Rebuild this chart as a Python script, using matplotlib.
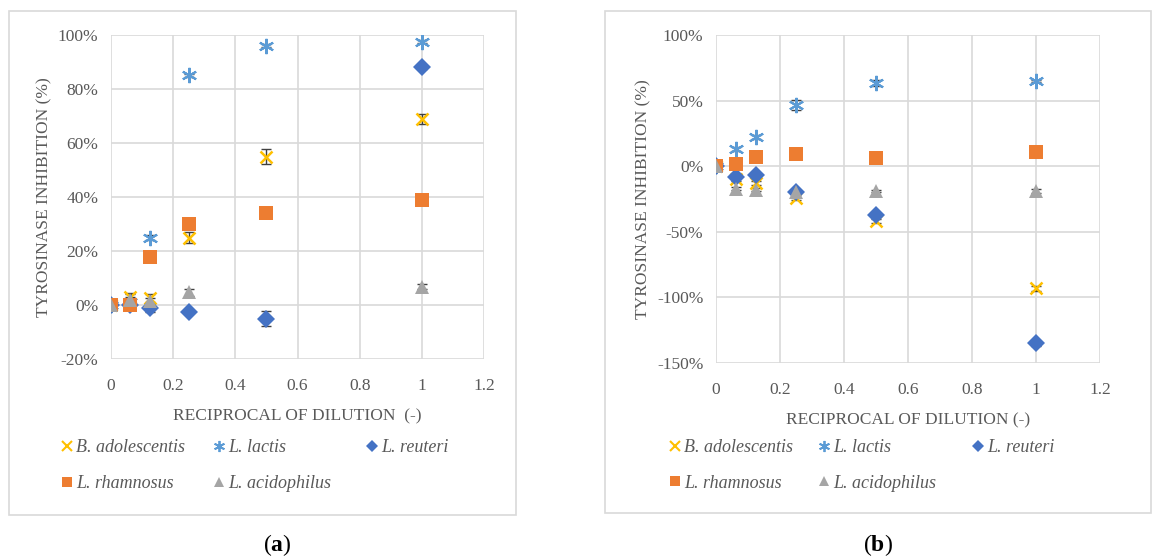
import matplotlib
matplotlib.use("Agg")
import matplotlib.pyplot as plt
from matplotlib.lines import Line2D
from matplotlib.patches import Rectangle
import numpy as np

W, H = 1153, 559

dilution = [0, 0.0625, 0.125, 0.25, 0.5, 1]
series_names = ["B. adolescentis", "L. lactis", "L. reuteri", "L. rhamnosus", "L. acidophilus"]
colors = ["#FFC000", "#5B9BD5", "#4472C4", "#ED7D31", "#A5A5A5"]
markers = ["x", (6, 2, 0), "D", "s", "^"]

# Panel (a) values (%)
a_adolescentis = [0, 3, 2.7, 25, 55, 69]
a_lactis = [0, 1, 25, 85, 96, 97.5]
a_reuteri = [0, 0, -1.2, -2.5, -5, 88]
a_rhamnosus = [0, 0, 17.7, 30, 34, 39]
a_acidophilus = [0, 2, 1.5, 4.7, None, 6.8]
a_err_adolescentis = [0, 1, 1.5, 2, 2.6, 1.8]
a_err_lactis = [0, 2, 1, 0.5, 0.5, 0.5]
a_err_reuteri = [0, 0.5, 1.5, 0.5, 2.8, 0.5]
a_err_rhamnosus = [0, 0.5, 0.5, 0.5, 0.5, 0.5]
a_err_acidophilus = [0, 2.5, 1, 1.2, 0, 1]

# Panel (b) values (%)
b_adolescentis = [0, -10, -13, -24.6, -42, -93]
b_lactis = [0, 13, 22, 46.5, 63.5, 65]
b_reuteri = [0, -8, -7, -20, -37, -135]
b_rhamnosus = [0, 1.5, 7, 9.6, 6, 11]
b_acidophilus = [0, -17, -17.8, -19.5, -19, -19]
b_err_adolescentis = [0, 1, 1.5, 1.5, 1.5, 2]
b_err_lactis = [0, 1.5, 1.5, 4, 2.5, 1]
b_err_reuteri = [0, 1.5, 2, 1.5, 1.5, 2]
b_err_rhamnosus = [0, 0.5, 0.5, 0.5, 0.5, 0.5]
b_err_acidophilus = [0, 1, 1, 1.5, 1, 1.5]

a_series = [a_adolescentis, a_lactis, a_reuteri, a_rhamnosus, a_acidophilus]
a_errs = [a_err_adolescentis, a_err_lactis, a_err_reuteri, a_err_rhamnosus, a_err_acidophilus]
b_series = [b_adolescentis, b_lactis, b_reuteri, b_rhamnosus, b_acidophilus]
b_errs = [b_err_adolescentis, b_err_lactis, b_err_reuteri, b_err_rhamnosus, b_err_acidophilus]

xticks = [0, 0.2, 0.4, 0.6, 0.8, 1, 1.2]
xtick_labels = ["0", "0.2", "0.4", "0.6", "0.8", "1", "1.2"]
a_yticks = [-20, 0, 20, 40, 60, 80, 100]
b_yticks = [-150, -100, -50, 0, 50, 100]

SERIF = ["Liberation Serif", "DejaVu Serif"]
TXT = "#595959"

plt.rcParams["mathtext.fontset"] = "custom"
plt.rcParams["mathtext.rm"] = "Liberation Serif"
plt.rcParams["mathtext.bf"] = "Liberation Serif:bold"

fig = plt.figure(figsize=(W / 100, H / 100), dpi=100)
fig.patch.set_facecolor("white")


def frac_box(l, t, r, b):
    return [l / W, 1 - b / H, (r - l) / W, (b - t) / H]


def outer_box(l, t, r, b):
    fig.patches.append(Rectangle((l / W, 1 - b / H), (r - l) / W, (b - t) / H,
                                 transform=fig.transFigure, fill=False,
                                 edgecolor="#D9D9D9", linewidth=1.2))


def marker_style(m, big=True):
    if m == "x":
        return dict(markersize=9 if big else 7, markeredgewidth=1.8 if big else 1.5)
    if m == (6, 2, 0):
        return dict(markersize=11 if big else 8, markeredgewidth=1.5 if big else 1.3)
    ms = {"D": 9, "s": 10, "^": 10}[m] if big else {"D": 6, "s": 6.5, "^": 6.5}[m]
    return dict(markersize=ms, markeredgewidth=0)


def panel(box, series, errs, yticks, ylim, xlabel):
    ax = fig.add_axes(frac_box(*box))
    for vals, er, c, m in zip(series, errs, colors, markers):
        xs = [x for x, v in zip(dilution, vals) if v is not None]
        ys = [v for v in vals if v is not None]
        es = [e for e, v in zip(er, vals) if v is not None]
        ax.errorbar(xs, ys, yerr=es, fmt="none", ecolor="#404040",
                    elinewidth=1.0, capsize=3.5, capthick=1.0, zorder=3)
        ax.plot(xs, ys, linestyle="none", marker=m, color=c, zorder=4,
                **marker_style(m))
    ax.set_xlim(0, 1.2)
    ax.set_ylim(*ylim)
    ax.set_xticks(xticks)
    ax.set_xticklabels(xtick_labels)
    ax.set_yticks(yticks)
    ax.set_yticklabels([f"{v}%" for v in yticks])
    ax.grid(True, color="#D9D9D9", linewidth=1.2, zorder=0)
    ax.set_axisbelow(True)
    for s in ax.spines.values():
        s.set_visible(False)
    ax.tick_params(axis="y", length=0, labelsize=12.5, labelcolor=TXT, pad=9)
    ax.tick_params(axis="x", length=0, labelsize=12.5, labelcolor=TXT, pad=14)
    for lab in ax.get_xticklabels() + ax.get_yticklabels():
        lab.set_family(SERIF)
    ax.set_xlabel(xlabel, family=SERIF, fontsize=12.5, color=TXT, labelpad=10)
    ax.set_ylabel("TYROSINASE INHIBITION (%)", family=SERIF, fontsize=12.5,
                  color=TXT, labelpad=4)
    return ax


def legend(col_x, row_y):
    pos = [(col_x[0], row_y[0]), (col_x[1], row_y[0]), (col_x[2], row_y[0]),
           (col_x[0], row_y[1]), (col_x[1], row_y[1])]
    for (px, py), name, c, m in zip(pos, series_names, colors, markers):
        fig.add_artist(Line2D([px / W], [1 - (py - 3) / H], transform=fig.transFigure,
                              linestyle="none", marker=m, color=c,
                              **marker_style(m, big=False)))
        fig.text((px + 9) / W, 1 - (py - 1) / H, name, ha="left", va="center",
                 family=SERIF, style="italic", fontsize=13, color=TXT)


axa = panel((111, 35, 484, 359), a_series, a_errs, a_yticks, (-20, 100),
            "RECIPROCAL OF DILUTION  (-)")
axb = panel((716, 35, 1100, 363), b_series, b_errs, b_yticks, (-150, 100),
            "RECIPROCAL OF DILUTION (-)")

outer_box(9, 11, 516, 515)
outer_box(605, 11, 1151, 513)

legend((67, 219, 372), (449, 485))
legend((675, 824, 978), (449, 484))

fig.text(277 / W, 1 - 545 / H, r"($\mathbf{a}$)", ha="center", va="center",
         fontsize=17, family=SERIF, color="black")
fig.text(878 / W, 1 - 545 / H, r"($\mathbf{b}$)", ha="center", va="center",
         fontsize=17, family=SERIF, color="black")

fig.savefig("out.png", dpi=100, facecolor="white")
